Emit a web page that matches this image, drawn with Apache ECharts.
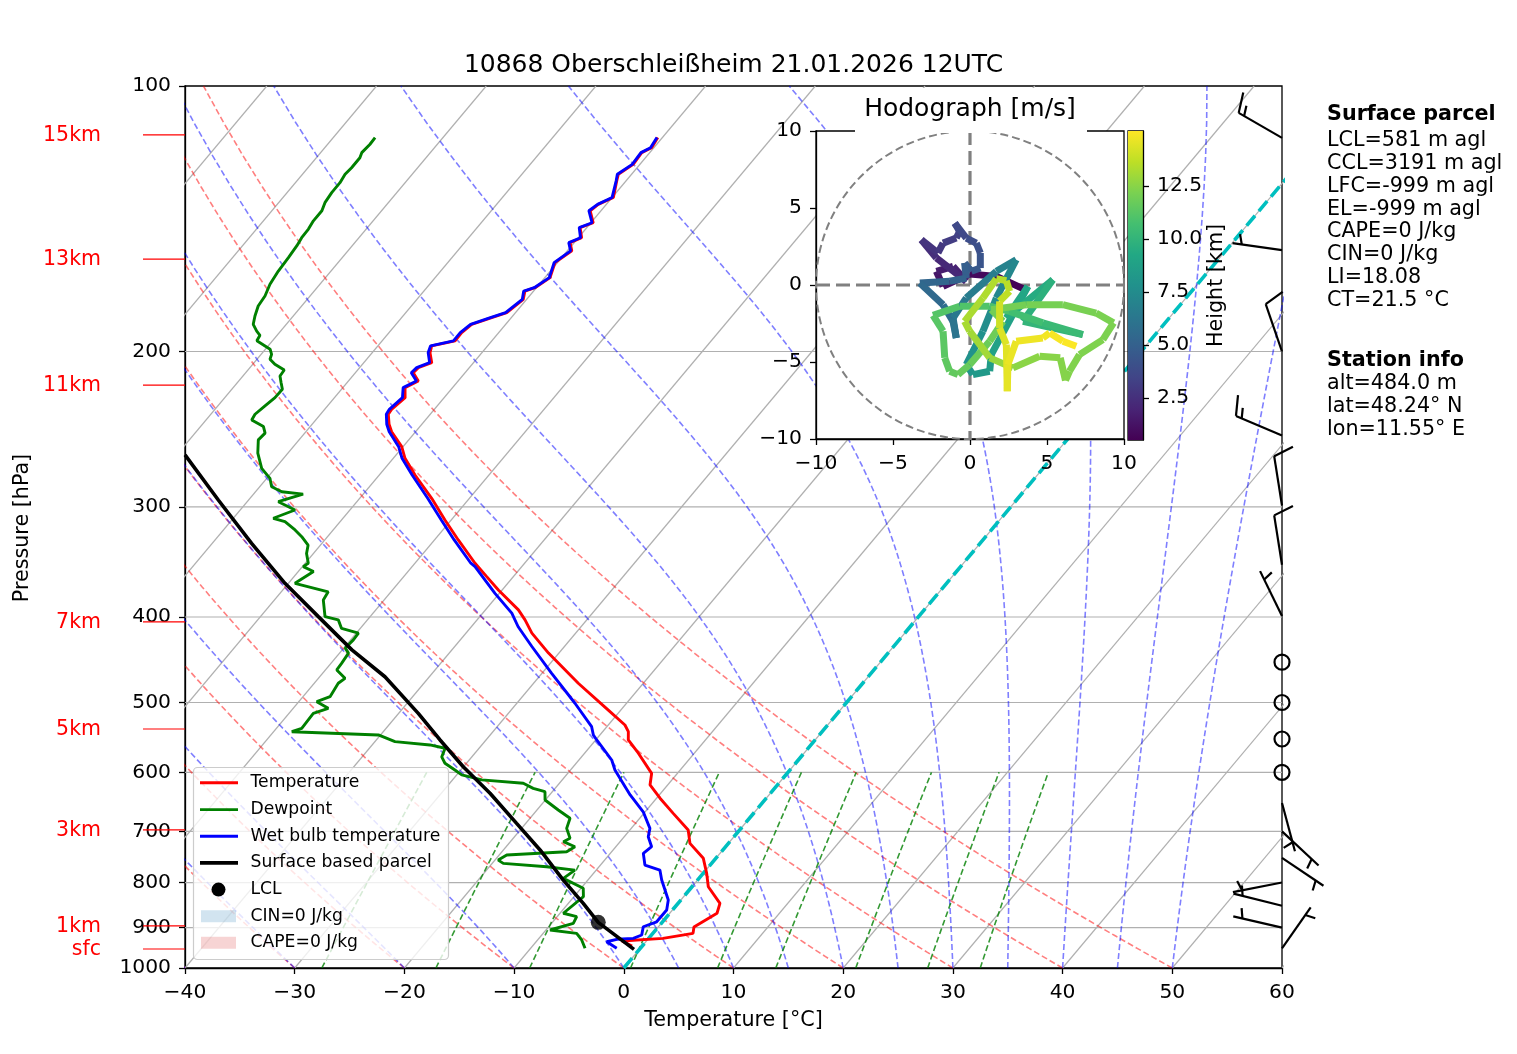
<!DOCTYPE html>
<html><head><meta charset="utf-8">
<script src="https://cdn.jsdelivr.net/npm/echarts@6/dist/echarts.min.js"></script>
<style>html,body{margin:0;padding:0;background:#fff}#chart{width:1517px;height:1054px}</style>
</head><body><div id="chart"></div>
<script>
// ---------------- DATA ----------------
const TITLE = '10868 Oberschleißheim 21.01.2026 12UTC';
const PRES_TICKS = [100,200,300,400,500,600,700,800,900,1000];
const PRES_GRID = [200,300,400,500,600,700,800,900];
const ISO_T = [-100,-90,-80,-70,-60,-50,-40,-30,-20,-10,0,10,20,30,40,50,60];
const DRY_T0 = [-40,-30,-20,-10,0,10,20,30,40,50];
const MOIST_T0 = [-40,-30,-20,-10,0,5,10,15,20,25,30,35,40,45,50];
const MIX_W = [0.0004,0.001,0.002,0.004,0.007,0.01,0.016,0.024,0.032];

// [pressure hPa, temperature degC]
const TEMP = [[944.2,-0.93],[932.0,-2.23],[925.5,1.30],[913.5,3.66],[898.5,3.26],[866.8,4.31],[844.7,3.82],[808.9,1.49],[781.2,0.32],[751.0,-1.14],[722.3,-3.50],[697.6,-4.68],[667.9,-7.32],[642.0,-9.68],[620.1,-11.61],[601.6,-12.35],[570.8,-15.10],[551.4,-17.03],[539.6,-17.66],[530.3,-18.48],[510.0,-21.14],[475.5,-25.93],[439.5,-30.95],[417.2,-33.99],[403.0,-35.63],[392.6,-37.00],[372.7,-40.35],[360.0,-42.43],[347.6,-44.52],[327.1,-47.83],[310.5,-50.57],[293.4,-53.44],[276.1,-56.74],[264.3,-58.93],[256.4,-60.12],[246.6,-62.18],[241.8,-62.99],[235.6,-63.82],[232.6,-63.90],[225.6,-63.56],[219.8,-64.33],[216.0,-63.63],[211.4,-64.72],[208.6,-64.65],[205.9,-63.81],[200.6,-64.73],[197.1,-65.09],[194.5,-63.35],[190.4,-63.37],[186.3,-63.10],[183.1,-61.78],[180.7,-60.79],[174.5,-60.31],[170.8,-60.79],[169.3,-60.13],[164.9,-59.53],[158.6,-60.22],[153.8,-59.59],[150.5,-60.38],[148.6,-59.70],[144.7,-60.62],[142.9,-59.79],[138.5,-60.98],[136.2,-60.74],[133.8,-59.88],[128.1,-60.85],[125.9,-61.21],[122.7,-60.61],[119.0,-60.73],[117.5,-60.20],[114.4,-60.42]];

const DEW = [[949.9,-5.04],[929.5,-5.98],[913.5,-6.95],[905.6,-9.63],[889.9,-8.02],[874.6,-8.22],[866.8,-9.70],[830.0,-9.14],[812.2,-9.79],[791.3,-12.37],[774.4,-11.95],[767.7,-14.78],[761.0,-18.99],[754.5,-19.70],[744.6,-19.31],[738.2,-14.10],[728.6,-13.73],[719.1,-15.17],[712.8,-14.82],[694.5,-15.89],[676.5,-16.35],[662.0,-18.06],[644.9,-20.03],[631.1,-20.67],[625.6,-22.00],[617.4,-23.29],[612.0,-27.33],[604.1,-29.54],[596.4,-30.54],[586.0,-31.96],[576.4,-32.74],[563.4,-33.10],[558.6,-34.73],[553.8,-38.17],[544.2,-40.20],[539.6,-48.34],[534.9,-47.69],[514.4,-47.78],[507.7,-46.80],[498.9,-48.36],[492.5,-47.53],[475.5,-47.81],[469.4,-47.57],[459.3,-48.96],[451.4,-49.03],[439.5,-49.18],[433.8,-49.86],[424.6,-49.75],[417.2,-49.80],[412.1,-51.70],[403.0,-52.65],[399.6,-54.11],[382.6,-55.54],[374.5,-55.72],[366.3,-59.40],[355.2,-58.61],[350.7,-59.92],[347.6,-59.72],[338.8,-60.63],[331.6,-61.12],[324.3,-62.35],[318.7,-63.47],[311.9,-65.02],[309.1,-66.35],[302.5,-65.00],[296.0,-67.16],[290.2,-65.48],[288.4,-67.61],[284.7,-68.91],[278.5,-69.71],[271.3,-71.23],[260.8,-72.74],[251.9,-73.71],[247.5,-73.61],[243.3,-74.26],[239.1,-75.84],[235.6,-75.97],[230.5,-75.70],[225.6,-75.42],[220.7,-75.39],[216.9,-76.02],[213.2,-76.62],[209.9,-76.69],[206.8,-77.98],[204.1,-78.81],[201.5,-79.04],[198.8,-79.57],[194.5,-81.42],[191.7,-81.56],[189.6,-82.18],[186.3,-83.01],[182.3,-83.49],[177.6,-83.96],[173.0,-84.11],[167.8,-84.55],[162.1,-84.80],[156.5,-84.91],[151.7,-85.05],[148.6,-85.22],[145.3,-85.26],[142.2,-85.44],[138.5,-85.44],[135.6,-85.78],[132.1,-85.93],[128.7,-85.94],[125.9,-86.12],[123.8,-86.02],[120.6,-86.03],[119.0,-86.25],[116.5,-86.14],[114.4,-86.19]];

const WETBULB = [[949.9,-2.15],[933.7,-3.57],[927.8,-2.84],[925.5,-1.40],[917.5,-0.89],[897.9,-1.38],[886.3,-0.54],[859.4,-0.53],[837.5,-1.14],[794.9,-3.27],[774.4,-4.20],[764.3,-5.95],[741.3,-6.99],[728.6,-6.74],[709.9,-7.81],[694.5,-8.30],[665.1,-10.18],[636.4,-12.66],[596.4,-15.95],[581.0,-17.01],[551.4,-19.91],[544.2,-20.60],[532.6,-21.39],[501.0,-24.70],[463.4,-29.11],[432.0,-32.97],[410.3,-35.73],[396.0,-37.35],[376.0,-40.40],[350.7,-44.26],[347.6,-44.9],[327.1,-48.2],[310.5,-50.9],[293.4,-53.8],[276.1,-57.0],[264.3,-59.2],[256.4,-60.4],[246.6,-62.4],[241.8,-63.2],[235.6,-64.0],[232.6,-64.1],[225.6,-63.8],[219.8,-64.5],[216.0,-63.8],[211.4,-64.9],[208.6,-64.8],[205.9,-64.0],[200.6,-64.9],[197.1,-65.2],[194.5,-63.5],[190.4,-63.5],[186.3,-63.2],[183.1,-61.9],[180.7,-60.9],[174.5,-60.4],[170.8,-60.9],[169.3,-60.2],[164.9,-59.6],[158.6,-60.3],[153.8,-59.7],[150.5,-60.5],[148.6,-59.8],[144.7,-60.7],[142.9,-59.9],[138.5,-61.1],[136.2,-60.8],[133.8,-60.0],[128.1,-60.9],[125.9,-61.3],[122.7,-60.7],[119.0,-60.8],[117.5,-60.3],[114.4,-60.5]];

const PARCEL = [[952.4,-0.50],[887.7,-5.82],[844.7,-8.64],[794.9,-12.24],[734.8,-16.66],[685.6,-20.83],[633.7,-25.56],[591.3,-30.03],[551.4,-34.19],[514.4,-38.21],[467.5,-44.05],[435.8,-49.12],[399.6,-54.72],[366.3,-60.31],[330.0,-66.41],[294.7,-72.76],[262.0,-79.24]];
const LCL = [887.7,-5.82];

const BARB_P   = [114.5,153.5,200,249,299,349,399,450,500,550,600,650,700,750,800,850,900,950];
const BARB_KT  = [15,5,10,15,10,10,5,0,0,0,0,5,5,5,5,5,5,5];
const BARB_DIR = [300,278,341,293,351,351,334,0,0,0,0,165,133,124,259,284,283,35];

const HEIGHT_LABELS = ['15km','13km','11km','7km','5km','3km','1km','sfc'];
const HEIGHT_P = [113.6,157.1,218.3,405.2,535.8,697.4,896.0,951.6];

const HODO_U = [3.44,1.71,-0.02,-1.75,-2.18,-1.10,-0.24,-2.18,-3.16,-2.08,-1.75,-0.89,-0.67,-0.99,-0.24,0.41,0.67,0.67,0.09,-0.35,-0.24,-1.32,-3.26,-1.75,-1.10,-0.89,-1.10,-0.24,1.71,3.00,1.71,0.84,-0.24,0.19,1.28,1.38,3.76,2.36,5.38,3.44,7.33,4.73,2.57,1.28,-0.67,-2.40,-1.75,-1.64,-1.32,-0.78,-0.02,1.28,2.14,1.38,3.65,6.03,8.19,9.32,8.63,7.11,6.46,6.20,5.86,4.52,2.79,1.28,-0.02,-0.35,0.84,1.71,2.36,2.57,1.92,1.92,2.36,2.42,2.46,3.00,4.73,5.17,6.03,6.90];
const HODO_V = [-0.24,0.56,0.71,-0.09,0.89,1.21,0.24,1.75,2.94,2.08,2.72,3.05,3.48,4.02,3.05,2.72,2.08,1.10,0.89,1.43,0.45,0.24,0.13,-1.28,-2.36,-3.44,-2.14,-0.84,0.89,1.64,-0.84,-3.00,-5.17,-5.82,-5.60,-4.52,-0.09,-2.14,0.35,-2.36,-3.22,-2.46,-1.71,-1.38,-1.38,-1.97,-3.00,-4.73,-5.60,-5.82,-5.17,-3.65,-2.36,-1.60,-1.28,-1.28,-1.82,-2.46,-3.55,-4.52,-5.60,-6.20,-4.73,-4.63,-5.38,-4.73,-3.00,-2.36,-0.84,0.41,0.28,-0.41,-1.06,-2.79,-3.87,-6.90,-5.17,-3.65,-3.44,-3.11,-3.65,-3.98];
const HODO_H = [0.5,0.75,1.0,1.25,1.5,1.75,2.0,2.3,2.6,2.8,3.0,3.2,3.4,3.6,3.8,4.0,4.2,4.4,4.6,4.8,5.0,5.2,5.4,5.6,5.8,6.0,6.2,6.5,6.8,7.1,7.4,7.7,8.0,8.2,8.4,8.6,9.0,9.3,9.6,9.9,10.2,10.5,10.8,11.0,11.1,11.2,11.3,11.4,11.5,11.6,11.7,11.8,11.9,12.0,12.05,12.1,12.15,12.2,12.25,12.3,12.35,12.4,12.45,12.5,12.6,13.0,13.1,13.2,13.3,13.4,13.5,13.6,13.7,14.3,14.4,14.5,14.6,14.7,14.8,14.9,15.0,15.09];
const HEIGHT_MIN = 0.52, HEIGHT_MAX = 15.09;
const CBAR_TICKS = [2.5,5,7.5,10,12.5];

const PARCEL_TEXT = ['LCL=581 m agl','CCL=3191 m agl','LFC=-999 m agl','EL=-999 m agl','CAPE=0 J/kg','CIN=0 J/kg','LI=18.08','CT=21.5 °C'];
const STATION_TEXT = ['alt=484.0 m','lat=48.24° N','lon=11.55° E'];
const LEGEND_NAMES = ['Temperature','Dewpoint','Wet bulb temperature','Surface based parcel','LCL','CIN=0 J/kg','CAPE=0 J/kg'];

// ---------------- HELPERS ----------------
const FONT = 'DejaVu Sans';
const K = 67.46; // skew: degC per decade of pressure
const skewX = (T, p) => T + K * (3 - Math.log10(p));
const toPt = (p, T) => [skewX(T, p), Math.log10(p)];
const fmtMinus = v => (v < 0 ? '\u2212' + Math.abs(v) : String(v));
const VIRIDIS = ['#440154','#482475','#414487','#355f8d','#2a788e','#21918c','#22a884','#44bf70','#7ad151','#bddf26','#fde725'];
function hexRgb(h){return [parseInt(h.substr(1,2),16),parseInt(h.substr(3,2),16),parseInt(h.substr(5,2),16)];}
function viridis(t){t=Math.max(0,Math.min(1,t));const s=t*10,i=Math.min(9,Math.floor(s)),f=s-i;const a=hexRgb(VIRIDIS[i]),b=hexRgb(VIRIDIS[i+1]);return 'rgb('+a.map((c,k)=>Math.round(c+(b[k]-c)*f)).join(',')+')';}

const Rd=287.04749, Cp=1004.6662, Lv=2.50084e6, EPS=0.6219569;
function satVap(Tc){return 6.112*Math.exp(17.67*Tc/(Tc+243.5));}
function dTdp(p,T){const es=satVap(T-273.15);const rs=EPS*es/(p-es);return (Rd*T+Lv*rs)/(Cp+Lv*Lv*rs*EPS/(Rd*T*T))/p;}
function moistLine(t0){let T=t0+273.15,p=1000;const pts=[toPt(1000,t0)];const h=-1;
  while(p>100.5){const k1=dTdp(p,T),k2=dTdp(p+h/2,T+h/2*k1),k3=dTdp(p+h/2,T+h/2*k2),k4=dTdp(p+h,T+h*k3);
    T+=h/6*(k1+2*k2+2*k3+k4);p+=h;if(Math.round(p)%10===0)pts.push(toPt(p,T-273.15));}
  return pts;}
function dryLine(t0){const pts=[];for(let p=1000;p>=100;p-=10){pts.push(toPt(p,(t0+273.15)*Math.pow(p/1000,Rd/Cp)-273.15));}return pts;}
function mixLine(w){const pts=[];for(let p=1000;p>=600;p-=10){const e=p*w/(EPS+w);const l=Math.log(e/6.112);pts.push(toPt(p,243.5*l/(17.67-l)));}return pts;}

function bgLine(data,color,width,type,z){return {type:'line',xAxisIndex:0,yAxisIndex:0,data:data,symbol:'none',showSymbol:false,silent:true,animation:false,clip:true,z:z,emphasis:{disabled:true},lineStyle:{color:color,width:width,type:type}};}

const series = [];
PRES_GRID.forEach(p=>series.push(bgLine([[-40,Math.log10(p)],[60,Math.log10(p)]],'#b0b0b0',1.2,'solid',1)));
ISO_T.forEach(T=>series.push(bgLine([toPt(1000,T),toPt(100,T)],'#b0b0b0',1.2,'solid',1)));
DRY_T0.forEach(t=>series.push(bgLine(dryLine(t),'rgba(255,0,0,0.5)',1.6,[6,3],2)));
MOIST_T0.forEach(t=>series.push(bgLine(moistLine(t),'rgba(0,0,255,0.5)',1.6,[6,3],2)));
MIX_W.forEach(w=>series.push(bgLine(mixLine(w),'rgba(0,128,0,0.8)',1.6,[6,3],2)));
series.push(bgLine([toPt(1000,0),toPt(100,0)],'#00bfbf',3.6,[13,6],3));

function profile(arr,color,width,z){return bgLine(arr.map(d=>toPt(d[0],d[1])),color,width,'solid',z);}
series.push(profile(TEMP,'#ff0000',2.9,4));
series.push(profile(DEW,'#008000',2.9,4));
series.push(profile(WETBULB,'#0000ff',2.9,4));
series.push(profile(PARCEL,'#000000',3.6,5));
series.push({type:'scatter',xAxisIndex:0,yAxisIndex:0,data:[toPt(LCL[0],LCL[1])],symbol:'circle',symbolSize:15,itemStyle:{color:'#000'},silent:true,animation:false,z:6});

// height labels (left, red)
series.push({type:'custom',xAxisIndex:0,yAxisIndex:0,clip:false,silent:true,animation:false,z:6,
  data:HEIGHT_P.map(p=>[-40,Math.log10(p)]),
  renderItem:(params,api)=>{const c=api.coord([api.value(0),api.value(1)]);
    return {type:'group',children:[
      {type:'line',shape:{x1:c[0]-42,y1:c[1],x2:c[0],y2:c[1]},style:{stroke:'#ff0000',lineWidth:1.2}},
      {type:'text',style:{text:HEIGHT_LABELS[params.dataIndex],x:c[0]-84,y:c[1]+1,align:'right',verticalAlign:'middle',fill:'#ff0000',fontSize:20.5,fontFamily:FONT}}]};}});

// wind barbs (right edge)
series.push({type:'custom',xAxisIndex:0,yAxisIndex:0,clip:false,silent:true,animation:false,z:8,
  data:BARB_P.map((p,i)=>[60,Math.log10(p),BARB_KT[i],BARB_DIR[i]]),
  renderItem:(params,api)=>{
    const b=api.coord([api.value(0),api.value(1)]);const spd=api.value(2),dir=api.value(3);
    const sty={stroke:'#000',lineWidth:2.2,fill:null,lineCap:'butt'};
    const ch=[];
    if(spd<2.5){ch.push({type:'circle',shape:{cx:b[0],cy:b[1],r:7.5},style:{stroke:'#000',lineWidth:2.2,fill:null}});return {type:'group',children:ch};}
    const L=50,rad=dir*Math.PI/180,ux=Math.sin(rad),uy=-Math.cos(rad);
    const a=72.6*Math.PI/180,bx=ux*Math.cos(a)-uy*Math.sin(a),by=ux*Math.sin(a)+uy*Math.cos(a);
    const ex=b[0]+ux*L,ey=b[1]+uy*L;
    ch.push({type:'line',shape:{x1:b[0],y1:b[1],x2:ex,y2:ey},style:sty});
    let s=Math.round(spd/5)*5;const n10=Math.floor(s/10);const half=(s-n10*10)>=5;
    const full=0.419*L,sp=0.125*L;let off=0;
    for(let i=0;i<n10;i++){const px=ex-ux*off,py=ey-uy*off;ch.push({type:'line',shape:{x1:px,y1:py,x2:px+bx*full,y2:py+by*full},style:sty});off+=sp;}
    if(half){if(off===0)off=1.5*sp;const px=ex-ux*off,py=ey-uy*off;ch.push({type:'line',shape:{x1:px,y1:py,x2:px+bx*full/2,y2:py+by*full/2},style:sty});}
    return {type:'group',children:ch};}});

// hodograph reference circle and axes
series.push({type:'custom',xAxisIndex:1,yAxisIndex:1,clip:false,silent:true,animation:false,z:22,data:[[0,0]],
  renderItem:(params,api)=>{const c=api.coord([0,0]);const r=api.coord([10,0])[0]-c[0];
    const l=api.coord([-10,0]),rr=api.coord([10,0]),t=api.coord([0,10]),bt=api.coord([0,-10]);
    return {type:'group',children:[
      {type:'circle',shape:{cx:c[0],cy:c[1],r:r},style:{stroke:'#808080',lineWidth:2,fill:null,lineDash:[8,4]}},
      {type:'line',shape:{x1:l[0],y1:l[1],x2:rr[0],y2:rr[1]},style:{stroke:'#808080',lineWidth:3.2,lineDash:[14,6]}},
      {type:'line',shape:{x1:t[0],y1:t[1],x2:bt[0],y2:bt[1]},style:{stroke:'#808080',lineWidth:3.2,lineDash:[14,6]}}]};}});

// hodograph line coloured by height
const hodoSeg=[];for(let i=0;i<HODO_U.length-1;i++)hodoSeg.push([HODO_U[i],HODO_V[i],HODO_U[i+1],HODO_V[i+1],(HODO_H[i]+HODO_H[i+1])/2]);
series.push({type:'custom',xAxisIndex:1,yAxisIndex:1,clip:true,silent:true,animation:false,z:23,data:hodoSeg,encode:{x:[0,2],y:[1,3]},
  renderItem:(params,api)=>{const a=api.coord([api.value(0),api.value(1)]),b=api.coord([api.value(2),api.value(3)]);
    return {type:'line',shape:{x1:a[0],y1:a[1],x2:b[0],y2:b[1]},style:{stroke:viridis((api.value(4)-HEIGHT_MIN)/(HEIGHT_MAX-HEIGHT_MIN)),lineWidth:7,lineCap:'butt'}};}});

// colorbar
series.push({type:'custom',xAxisIndex:2,yAxisIndex:2,clip:false,silent:true,animation:false,z:21,data:[[0,HEIGHT_MIN,1,HEIGHT_MAX]],
  renderItem:(params,api)=>{const p0=api.coord([0,HEIGHT_MIN]),p1=api.coord([1,HEIGHT_MAX]);
    return {type:'rect',shape:{x:p0[0],y:p1[1],width:p1[0]-p0[0],height:p0[1]-p1[1]},
      style:{fill:new echarts.graphic.LinearGradient(0,1,0,0,VIRIDIS.map((c,i)=>({offset:i/10,color:c})))}};}});

// ---------------- GRAPHIC (texts, legend) ----------------
const graphic = [];
const txt=(text,x,y,opt)=>Object.assign({type:'text',x:x,y:y,z:100,silent:true,style:Object.assign({text:text,fill:'#000',fontSize:20.7,fontFamily:FONT,align:'left',verticalAlign:'middle'},opt||{})});
graphic.push(txt(TITLE,733.5,65,{fontSize:25,align:'center'}));
graphic.push(txt('Temperature [°C]',733.5,1021,{align:'center'}));
graphic.push(Object.assign(txt('Pressure [hPa]',23,528,{align:'center'}),{rotation:Math.PI/2}));
// hodograph title box
graphic.push({type:'rect',z:90,silent:true,shape:{x:855,y:88,width:232,height:45},style:{fill:'#fff'}});
graphic.push(txt('Hodograph [m/s]',970,109,{fontSize:25,align:'center'}));
// right panel
graphic.push(txt('Surface parcel',1327,115,{fontWeight:'bold'}));
PARCEL_TEXT.forEach((t,i)=>graphic.push(txt(t,1327,140.5+i*22.9)));
graphic.push(txt('Station info',1327,360.5,{fontWeight:'bold'}));
STATION_TEXT.forEach((t,i)=>graphic.push(txt(t,1327,383.5+i*22.9)));
// legend
graphic.push({type:'rect',z:95,silent:true,shape:{x:193.5,y:767.5,width:255,height:192,r:4},style:{fill:'rgba(255,255,255,0.8)',stroke:'#cccccc',lineWidth:1.2}});
const LEG_Y=[782.7,809.6,836.3,862.9,889.6,916.2,942.8];
const legLine=(y,color,w)=>({type:'line',z:100,silent:true,shape:{x1:200,y1:y,x2:238,y2:y},style:{stroke:color,lineWidth:w}});
graphic.push(legLine(LEG_Y[0],'#ff0000',2.9));
graphic.push(legLine(LEG_Y[1],'#008000',2.9));
graphic.push(legLine(LEG_Y[2],'#0000ff',2.9));
graphic.push(legLine(LEG_Y[3],'#000000',3.6));
graphic.push({type:'circle',z:100,silent:true,shape:{cx:218.5,cy:LEG_Y[4],r:7},style:{fill:'#000'}});
graphic.push({type:'rect',z:100,silent:true,shape:{x:201,y:LEG_Y[5]-6,width:35,height:12},style:{fill:'rgba(31,119,180,0.2)'}});
graphic.push({type:'rect',z:100,silent:true,shape:{x:201,y:LEG_Y[6]-6,width:35,height:12},style:{fill:'rgba(214,39,40,0.2)'}});
LEGEND_NAMES.forEach((n,i)=>graphic.push(txt(n,250.5,LEG_Y[i],{fontSize:17.2})));

// ---------------- AXES ----------------
const axLine={show:true,onZero:false,lineStyle:{color:'#000',width:1.3}};
const axTick={show:true,inside:false,length:6,lineStyle:{color:'#000',width:1.3}};
const axLabX={fontSize:20.3,color:'#000',fontFamily:FONT,margin:15,formatter:fmtMinus};
const axLabY={fontSize:20.3,color:'#000',fontFamily:FONT,margin:14,padding:[4,0,0,0],formatter:fmtMinus};
const option={
  animation:false,
  backgroundColor:'#fff',
  grid:[
    {left:185,top:86,width:1097,height:882,show:true,borderColor:'#000',borderWidth:1.3,backgroundColor:'rgba(0,0,0,0)',z:0},
    {left:816,top:131,width:308,height:308,show:true,borderColor:'#000',borderWidth:1.3,backgroundColor:'#fff',z:20},
    {left:1128,top:131,width:15,height:309,show:true,borderColor:'#000',borderWidth:1.3,backgroundColor:'#fff',z:20}
  ],
  xAxis:[
    {gridIndex:0,type:'value',min:-40,max:60,interval:10,axisLine:axLine,axisTick:axTick,axisLabel:axLabX,splitLine:{show:false}},
    {gridIndex:1,type:'value',min:-10,max:10,interval:5,z:21,axisLine:axLine,axisTick:axTick,axisLabel:axLabX,splitLine:{show:false}},
    {gridIndex:2,type:'value',min:0,max:1,show:false}
  ],
  yAxis:[
    {gridIndex:0,type:'value',min:2,max:3,inverse:true,axisLine:axLine,
      axisTick:Object.assign({},axTick,{customValues:PRES_TICKS.map(Math.log10)}),
      axisLabel:Object.assign({},axLabY,{customValues:PRES_TICKS.map(Math.log10),formatter:v=>String(Math.round(Math.pow(10,v)))}),
      splitLine:{show:false}},
    {gridIndex:1,type:'value',min:-10,max:10,interval:5,z:21,axisLine:axLine,axisTick:axTick,axisLabel:axLabY,splitLine:{show:false}},
    {gridIndex:2,type:'value',position:'right',min:HEIGHT_MIN,max:HEIGHT_MAX,z:21,axisLine:axLine,
      axisTick:Object.assign({},axTick,{customValues:CBAR_TICKS}),
      axisLabel:Object.assign({},axLabY,{customValues:CBAR_TICKS,formatter:v=>v.toFixed(1)}),
      splitLine:{show:false},
      name:'Height [km]',nameLocation:'middle',nameRotate:90,nameGap:58,nameTextStyle:{fontSize:20.7,color:'#000',fontFamily:FONT}}
  ],
  series:series,
  graphic:graphic
};
const chart=echarts.init(document.getElementById('chart'));
chart.setOption(option);
</script>
</body></html>
